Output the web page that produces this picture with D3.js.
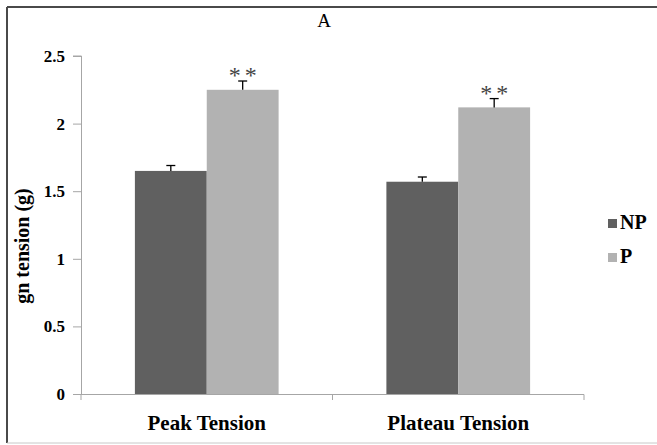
<!DOCTYPE html>
<html>
<head>
<meta charset="utf-8">
<script src="https://cdn.jsdelivr.net/npm/d3@7"></script>
<style>
  body { margin: 0; background: #fff; }
  svg { display: block; }
</style>
</head>
<body>
<svg id="chart" width="657" height="445"></svg>
<script>
// chart data
var categories = ["Peak Tension", "Plateau Tension"];
var groups = ["NP", "P"];
var npValues = [1.65, 1.57];
var pValues = [2.25, 2.12];
var npErrors = [0.04, 0.035];
var pErrors = [0.065, 0.065];
var significance = ["**", "**"];
var yTicks = [0, 0.5, 1, 1.5, 2, 2.5];
var colors = ["#606060", "#b2b2b2"];

var FONT = "Liberation Serif";
var svg = d3.select("#chart");

// outer frame
svg.append("line").attr("x1", 7).attr("y1", 7).attr("x2", 657).attr("y2", 7)
    .attr("stroke", "#4a4a4a").attr("stroke-width", 2);
svg.append("line").attr("x1", 7).attr("y1", 7).attr("x2", 7).attr("y2", 443)
    .attr("stroke", "#4a4a4a").attr("stroke-width", 2);
svg.append("line").attr("x1", 7).attr("y1", 443).attr("x2", 657).attr("y2", 443)
    .attr("stroke", "#c8c8c8").attr("stroke-width", 1);

var margin = {left: 81, top: 56, right: 584, bottom: 394};

// scales
var x = d3.scaleBand().domain(categories).range([margin.left, margin.right]);
var xInner = d3.scaleBand().domain(groups).range([0, x.bandwidth()]).paddingOuter(0.75);
var y = d3.scaleLinear().domain([0, 2.5]).range([margin.bottom, margin.top]);

// build rows from the arrays
var rows = [];
categories.forEach(function(c, i) {
    rows.push({cat: c, group: "NP", value: npValues[i], err: npErrors[i], color: colors[0]});
    rows.push({cat: c, group: "P", value: pValues[i], err: pErrors[i], color: colors[1], star: significance[i]});
});

function cx(d) { return x(d.cat) + xInner(d.group) + xInner.bandwidth() / 2; }

// y axis
var yAxis = d3.axisLeft(y).tickValues(yTicks).tickSize(8).tickPadding(8)
    .tickFormat(function(d) { return d; });
var gY = svg.append("g").attr("transform", "translate(" + margin.left + ",0)").call(yAxis);
gY.selectAll("path, line").attr("stroke", "#a6a6a6");
gY.select(".domain").attr("d", "M-8," + y(2.5) + "H0.5V" + y(0));
gY.selectAll("text").style("font-family", FONT).style("font-weight", "bold")
    .style("font-size", "17px").attr("fill", "#000");

// bars
svg.selectAll(".bar").data(rows).enter().append("rect")
    .attr("class", "bar")
    .attr("x", function(d) { return x(d.cat) + xInner(d.group); })
    .attr("y", function(d) { return y(d.value); })
    .attr("width", xInner.bandwidth())
    .attr("height", function(d) { return y(0) - y(d.value); })
    .attr("fill", function(d) { return d.color; });

// error bars (upper half only)
var eb = svg.selectAll(".err").data(rows).enter().append("g").attr("class", "err");
eb.append("line")
    .attr("x1", cx).attr("x2", cx)
    .attr("y1", function(d) { return y(d.value); })
    .attr("y2", function(d) { return y(d.value + d.err); })
    .attr("stroke", "#000").attr("stroke-width", 1.3);
eb.append("line")
    .attr("x1", function(d) { return cx(d) - 4.5; })
    .attr("x2", function(d) { return cx(d) + 4.5; })
    .attr("y1", function(d) { return y(d.value + d.err); })
    .attr("y2", function(d) { return y(d.value + d.err); })
    .attr("stroke", "#000").attr("stroke-width", 1.3);

// significance stars
svg.selectAll(".star").data(rows.filter(function(d) { return d.star; })).enter().append("text")
    .attr("x", function(d) { return cx(d) + 2; })
    .attr("y", function(d) { return y(d.value + d.err) + 2; })
    .attr("text-anchor", "middle")
    .style("font-family", FONT).style("font-size", "24px")
    .attr("fill", "#444")
    .attr("letter-spacing", 4)
    .text(function(d) { return d.star; });

// x axis
var xAxis = d3.axisBottom(x).tickSize(0);
var gX = svg.append("g").attr("transform", "translate(0," + margin.bottom + ")").call(xAxis);
gX.select(".domain").attr("stroke", "#a6a6a6").attr("d", "M" + margin.left + ",6V0.5H" + margin.right + "V6");
gX.selectAll("text").style("font-family", FONT).style("font-weight", "bold")
    .style("font-size", "21px").attr("fill", "#000").attr("y", 36).attr("dy", 0);
// middle tick between categories
gX.append("line").attr("x1", x(categories[1])).attr("x2", x(categories[1]))
    .attr("y1", 0).attr("y2", 6).attr("stroke", "#a6a6a6");

// title
svg.append("text").attr("x", 324).attr("y", 27).attr("text-anchor", "middle")
    .style("font-family", FONT).style("font-size", "19px").text("A");

// y label
svg.append("text")
    .attr("transform", "translate(29,246) rotate(-90)")
    .attr("text-anchor", "middle")
    .style("font-family", FONT).style("font-weight", "bold").style("font-size", "20px")
    .text("gn tension (g)");

// legend
var legend = svg.selectAll(".legend").data(groups).enter().append("g")
    .attr("transform", function(d, i) { return "translate(608," + (219 + i * 34) + ")"; });
legend.append("rect").attr("width", 9).attr("height", 9)
    .attr("fill", function(d, i) { return colors[i]; });
legend.append("text").attr("x", 12).attr("y", 10)
    .style("font-family", FONT).style("font-weight", "bold").style("font-size", "20px")
    .text(function(d) { return d; });
</script>
</body>
</html>
